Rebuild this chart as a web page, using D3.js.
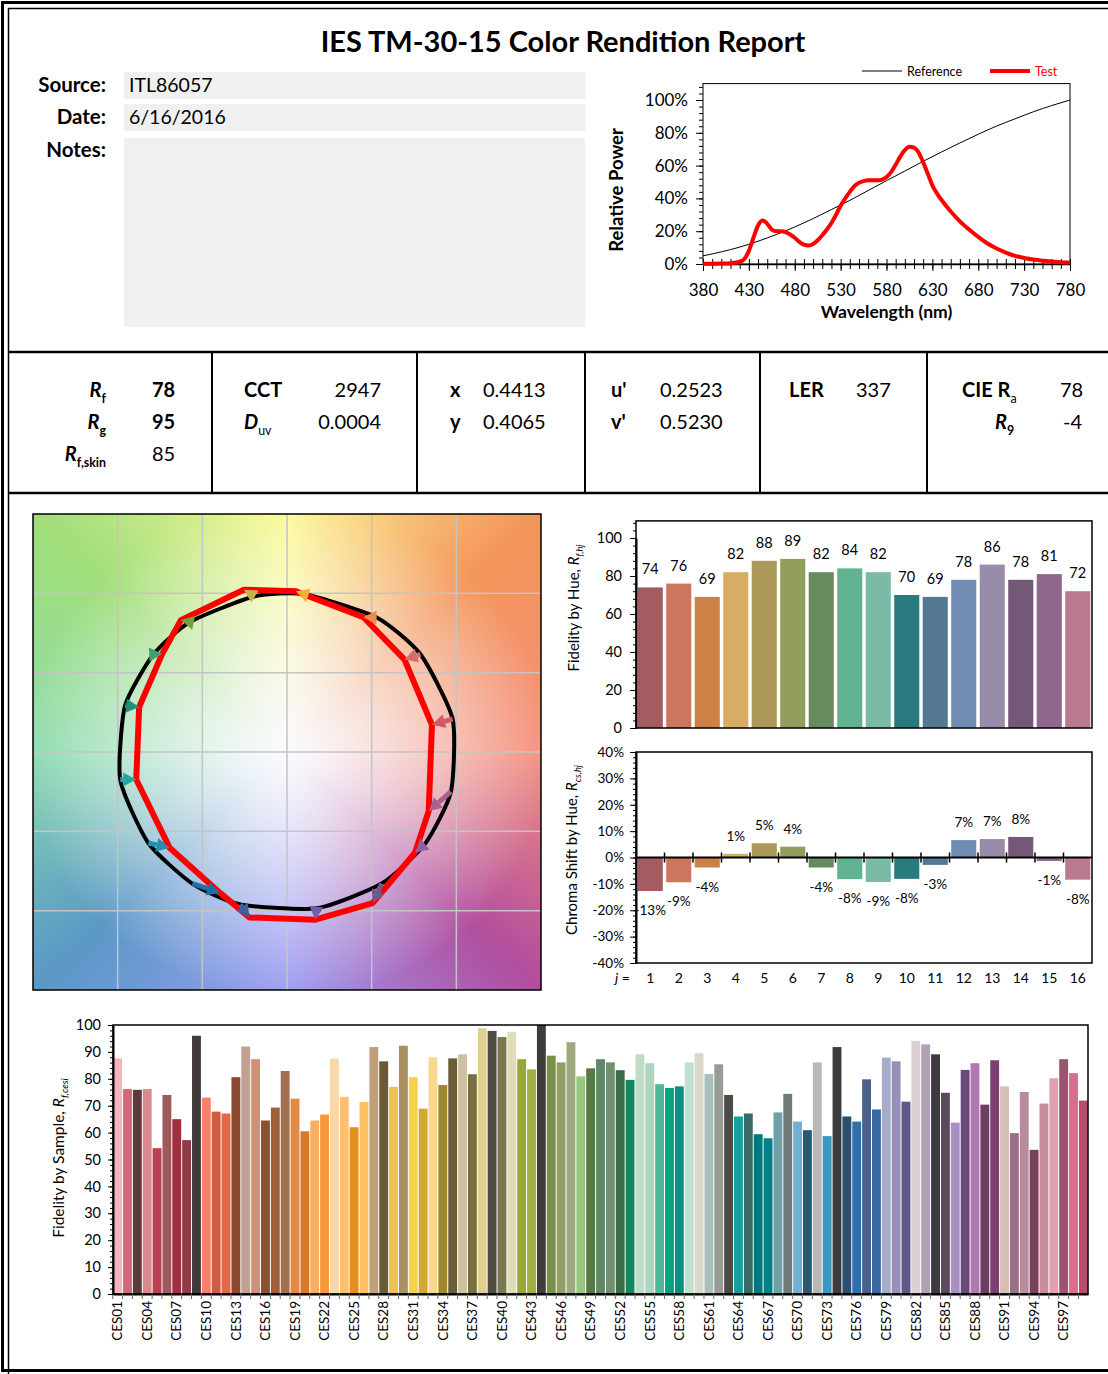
<!DOCTYPE html>
<html>
<head>
<meta charset="utf-8">
<script src="https://cdn.jsdelivr.net/npm/d3@7"></script>
<style>
  body { margin: 0; background: #fff; }
  svg { display: block; }
</style>
</head>
<body>
<svg id="report" width="1108" height="1374"></svg>
<script>
// ---------------- data ----------------
const headerLabels = ["Source:", "Date:", "Notes:"];
const headerValues = ["ITL86057", "6/16/2016", ""];

// spectrum (relative power, %)
const refWl    = [380, 400, 420, 440, 460, 480, 500, 520, 540, 560, 580, 600, 620, 640, 660, 680, 700, 720, 740, 760, 780];
const refPower = [5.0, 7.4, 10.3, 13.9, 18.0, 22.6, 27.7, 33.2, 38.8, 44.8, 50.8, 56.7, 62.6, 68.3, 73.8, 79.1, 84.1, 88.5, 92.8, 96.6, 100];
const testWl    = [380, 390, 400, 410, 420, 425, 430, 435, 440, 445, 450, 455, 460, 465, 470, 475, 480, 485, 490, 495,
                   500, 505, 510, 515, 520, 525, 530, 535, 540, 545, 550, 555, 560, 565, 570, 575, 580, 585, 590, 595,
                   600, 605, 610, 615, 620, 625, 630, 635, 640, 650, 660, 670, 680, 690, 700, 710, 720, 730, 740, 750,
                   760, 770, 780];
const testPower = [0.2, 0.2, 0.3, 0.5, 1.2, 3, 8, 16, 23.5, 26.5, 24.5, 21, 20, 20, 19.5, 18, 16, 13.5, 11.8, 11.3,
                   12.2, 14.5, 17.5, 21, 25, 30, 35.5, 40, 44, 47.5, 49.5, 50.5, 51, 51, 51, 51.5, 53, 56, 60.5, 65.5,
                   69.5, 71.5, 71, 68, 62, 55, 48, 43, 39, 32, 26, 21, 16.5, 12.5, 9.5, 7, 5, 3.7, 2.7, 2,
                   1.5, 1.1, 0.9];
const wlTicks = [380, 430, 480, 530, 580, 630, 680, 730, 780];
const powerTicks = [0, 20, 40, 60, 80, 100];

// hue bins
const hueBins = [1, 2, 3, 4, 5, 6, 7, 8, 9, 10, 11, 12, 13, 14, 15, 16];
const hueColors = ["#a35c60", "#cc765e", "#cc8145", "#d8ac62", "#ac9959", "#919e5d", "#668b5e", "#61b290",
                   "#7bbaa6", "#297a7e", "#557892", "#708cb2", "#988caa", "#735877", "#8f668d", "#ba7a8e"];
const arrowColors = ["#d05a68", "#d46e6e", "#ee8a50", "#eeb234", "#c4b24c", "#70a040", "#40a070", "#20907a",
                     "#20a8a0", "#2090b0", "#2070a8", "#4060a0", "#7060a8", "#705890", "#9060a0", "#a86090"];
const fidelityByHue = [74, 76, 69, 82, 88, 89, 82, 84, 82, 70, 69, 78, 86, 78, 81, 72];
const chromaShift = [-12.7, -9.4, -3.8, 1.4, 5.4, 4.1, -3.8, -8.2, -9.3, -8.1, -2.8, 6.6, 7.0, 7.8, -1.3, -8.4];
const refHueAngle  = [12, 38, 58, 84, 101, 125, 142, 163, 190, 215, 236, 254, 280, 304, 324.5, 345.5];
const testHueAngle = [11.3, 40, 62, 87, 104, 127, 140, 162, 191, 221, 246, 258, 279, 298, 320, 336];
const fidTicks = [0, 20, 40, 60, 80, 100];
const chromaTicks = [-40, -30, -20, -10, 0, 10, 20, 30, 40];

// colour-vector background: hue colours every 45 degrees, starting at +a'
const bgHues = ["#f5907e", "#f4955a", "#fcfa9c", "#a0de7a", "#8cdcae", "#5a98c6", "#9c9cf2", "#b24e9e"];

// 99 colour evaluation samples
const cesNames = d3.range(1, 100).map(i => "CES" + String(i).padStart(2, "0"));
const cesFidelity = [87.6, 76.2, 75.9, 76.2, 54.2, 74.0, 65.0, 57.2, 96.0, 73.0,
                     67.8, 67.1, 80.6, 92.0, 87.3, 64.5, 69.3, 82.9, 72.6, 60.5,
                     64.5, 66.7, 87.5, 73.3, 62.0, 71.4, 91.8, 86.5, 77.0, 92.3,
                     80.6, 68.9, 88.0, 77.7, 87.6, 89.1, 81.7, 98.8, 97.8, 95.5,
                     97.5, 87.3, 83.5, 100, 88.6, 86.1, 93.6, 80.9, 83.9, 87.3,
                     86.1, 83.2, 79.6, 89.1, 85.8, 78.0, 76.6, 77.2, 86.1, 89.5,
                     81.8, 85.4, 74.0, 66.0, 67.1, 59.4, 57.9, 67.5, 74.4, 64.1,
                     60.9, 86.1, 58.7, 91.8, 66.0, 64.1, 79.8, 68.6, 87.9, 86.5,
                     71.5, 94.1, 92.8, 89.1, 74.8, 63.7, 83.3, 85.8, 70.4, 86.9,
                     77.2, 59.8, 75.1, 53.6, 70.8, 80.2, 87.3, 82.1, 71.9];
const cesColors = ["#f4b4bc", "#d4667a", "#5a3a3c", "#d8888e", "#b84050", "#9c5a5a", "#a03040", "#903a44", "#403a38", "#f88068",
                   "#d05a44", "#e06848", "#8a4a30", "#c4a090", "#d09078", "#8c5032", "#a06038", "#a07050", "#e08a48", "#d87828",
                   "#f8b060", "#f89838", "#f8d8a8", "#fcc070", "#e09020", "#fcc060", "#c0a078", "#6a5a38", "#f0c050", "#a89060",
                   "#f8d050", "#d4a830", "#f8d890", "#a08828", "#6a5e38", "#d0c0a0", "#7a6e40", "#e0d090", "#504c40", "#7a7850",
                   "#e0dcb8", "#98a838", "#a0b040", "#403c3a", "#789048", "#90a068", "#a0a880", "#98c880", "#587848", "#608868",
                   "#709070", "#3a6e48", "#108860", "#c0dcc8", "#b0d4c0", "#50b898", "#08a080", "#089080", "#c0e0d0", "#d8d8cc",
                   "#a8c0b8", "#989c94", "#4a4a48", "#10a0a0", "#3a6a68", "#007880", "#008088", "#70a0a8", "#707c7c", "#70b0d0",
                   "#2a5870", "#b8b8b8", "#3898c0", "#3c3c3c", "#2a5070", "#3070a8", "#4a6088", "#3868a0", "#a8acc8", "#9890b8",
                   "#605888", "#dcd0d4", "#b0a0b8", "#3c3a3e", "#5a4a5c", "#a890c0", "#684a78", "#b07ab0", "#6c3e64", "#7c4070",
                   "#d4c0b4", "#9c7084", "#b88c9c", "#78405c", "#c88c9c", "#e0a0b0", "#9c5470", "#d86e8c", "#b84c6c"];
const cesTicks = [0, 10, 20, 30, 40, 50, 60, 70, 80, 90, 100];

// ---------------- drawing ----------------
const font = "Lato, 'Open Sans', sans-serif";
const svg = d3.select("#report").attr("font-family", font);

// helper: text made of parts (italic / bold / subscript)
function rich(sel, parts, size) {
  parts.forEach(p => {
    const t = sel.append("tspan").text(p.t);
    if (p.i) t.attr("font-style", "italic");
    if (p.b) t.attr("font-weight", "bold");
    if (p.sub) t.attr("font-size", size * 0.62).attr("dy", size * 0.28);
  });
  return sel;
}
function styleAxis(g, size) {
  g.attr("font-family", font).attr("font-size", size);
  g.selectAll("text").attr("fill", "#000");
  g.selectAll("line,path").attr("stroke", "#000");
}

// page frame and section rules
svg.append("rect").attr("x", 2.5).attr("y", 2.5).attr("width", 1130).attr("height", 1368)
  .attr("fill", "none").attr("stroke", "#000").attr("stroke-width", 3);
svg.append("rect").attr("x", 8.5).attr("y", 8.5).attr("width", 1120).attr("height", 1400)
  .attr("fill", "none").attr("stroke", "#000").attr("stroke-width", 1.5);
[352, 493].forEach(y => svg.append("line").attr("x1", 9).attr("x2", 1108).attr("y1", y).attr("y2", y)
  .attr("stroke", "#000").attr("stroke-width", 2.5));
[212, 417, 585, 760, 927].forEach(x => svg.append("line").attr("x1", x).attr("x2", x).attr("y1", 352).attr("y2", 493)
  .attr("stroke", "#000").attr("stroke-width", 2));

// title + header fields
svg.append("text").attr("x", 563).attr("y", 52).attr("text-anchor", "middle")
  .attr("font-size", 29).attr("font-weight", "bold").text("IES TM-30-15 Color Rendition Report");

const boxes = [[72, 27], [104, 27], [138, 189]];
const baseY = [92, 124, 157];
headerLabels.forEach((lab, i) => {
  svg.append("rect").attr("x", 124).attr("y", boxes[i][0]).attr("width", 461).attr("height", boxes[i][1]).attr("fill", "#f0f0f0");
  svg.append("text").attr("x", 106).attr("y", baseY[i]).attr("text-anchor", "end")
    .attr("font-size", 20.5).attr("font-weight", "bold").text(lab);
  svg.append("text").attr("x", 129).attr("y", baseY[i]).attr("font-size", 19.5).text(headerValues[i]);
});

// ---------------- metrics row ----------------
const m = svg.append("g").attr("font-size", 20);
const row = [397, 429, 461];
rich(m.append("text").attr("x", 106).attr("y", row[0]).attr("text-anchor", "end"), [{t: "R", i: 1, b: 1}, {t: "f", b: 1, sub: 1}], 20);
rich(m.append("text").attr("x", 106).attr("y", row[1]).attr("text-anchor", "end"), [{t: "R", i: 1, b: 1}, {t: "g", b: 1, sub: 1}], 20);
rich(m.append("text").attr("x", 106).attr("y", row[2]).attr("text-anchor", "end"), [{t: "R", i: 1, b: 1}, {t: "f,skin", b: 1, sub: 1}], 20);
m.append("text").attr("x", 152).attr("y", row[0]).attr("font-weight", "bold").text("78");
m.append("text").attr("x", 152).attr("y", row[1]).attr("font-weight", "bold").text("95");
m.append("text").attr("x", 152).attr("y", row[2]).text("85");

m.append("text").attr("x", 244).attr("y", row[0]).attr("font-weight", "bold").text("CCT");
m.append("text").attr("x", 381).attr("y", row[0]).attr("text-anchor", "end").text("2947");
rich(m.append("text").attr("x", 244).attr("y", row[1]), [{t: "D", i: 1, b: 1}, {t: "uv", sub: 1}], 20);
m.append("text").attr("x", 381).attr("y", row[1]).attr("text-anchor", "end").text("0.0004");

m.append("text").attr("x", 450).attr("y", row[0]).attr("font-weight", "bold").text("x");
m.append("text").attr("x", 483).attr("y", row[0]).text("0.4413");
m.append("text").attr("x", 450).attr("y", row[1]).attr("font-weight", "bold").text("y");
m.append("text").attr("x", 483).attr("y", row[1]).text("0.4065");

m.append("text").attr("x", 611).attr("y", row[0]).attr("font-weight", "bold").text("u'");
m.append("text").attr("x", 660).attr("y", row[0]).text("0.2523");
m.append("text").attr("x", 611).attr("y", row[1]).attr("font-weight", "bold").text("v'");
m.append("text").attr("x", 660).attr("y", row[1]).text("0.5230");

m.append("text").attr("x", 789).attr("y", row[0]).attr("font-weight", "bold").text("LER");
m.append("text").attr("x", 856).attr("y", row[0]).text("337");

rich(m.append("text").attr("x", 962).attr("y", row[0]), [{t: "CIE R", b: 1}, {t: "a", sub: 1}], 20);
m.append("text").attr("x", 1060).attr("y", row[0]).text("78");
rich(m.append("text").attr("x", 995).attr("y", row[1]), [{t: "R", i: 1, b: 1}, {t: "9", b: 1, sub: 1}], 20);
m.append("text").attr("x", 1063).attr("y", row[1]).text("-4");

// ---------------- spectrum ----------------
const sx = d3.scaleLinear().domain([380, 780]).range([703, 1070]);
const sy = d3.scaleLinear().domain([0, 100]).range([264, 100]);
const spec = svg.append("g");
spec.append("rect").attr("x", sx(380)).attr("y", sy(110)).attr("width", sx(780) - sx(380)).attr("height", sy(0) - sy(110))
  .attr("fill", "none").attr("stroke", "#000").attr("stroke-width", 1);

spec.append("g").attr("transform", `translate(0,${sy(0)})`)
  .call(d3.axisBottom(sx).tickValues(d3.range(380, 781, 10)).tickSize(5).tickSizeOuter(0).tickFormat(""))
  .call(g => styleAxis(g, 17));
spec.append("g").attr("transform", `translate(0,${sy(0)})`)
  .call(d3.axisBottom(sx).tickValues(d3.range(380, 781, 10)).tickSize(-5).tickSizeOuter(0).tickFormat(""))
  .call(g => g.select(".domain").remove()).call(g => styleAxis(g, 17));
spec.append("g").attr("transform", `translate(0,${sy(0)})`)
  .call(d3.axisBottom(sx).tickValues(wlTicks).tickSize(7).tickPadding(13).tickSizeOuter(0))
  .call(g => g.select(".domain").attr("stroke-width", 1.5)).call(g => styleAxis(g, 17));

spec.append("g").attr("transform", `translate(${sx(380)},0)`)
  .call(d3.axisLeft(sy).tickValues(d3.range(0, 109, 4)).tickSize(4).tickSizeOuter(0).tickFormat(""))
  .call(g => g.select(".domain").remove()).call(g => styleAxis(g, 17));
spec.append("g").attr("transform", `translate(${sx(380)},0)`)
  .call(d3.axisLeft(sy).tickValues(powerTicks).tickSize(7).tickPadding(8).tickSizeOuter(0).tickFormat(d => d + "%"))
  .call(g => g.select(".domain").remove()).call(g => styleAxis(g, 17));

spec.append("path").datum(refWl.map((w, i) => [w, refPower[i]]))
  .attr("fill", "none").attr("stroke", "#000").attr("stroke-width", 1)
  .attr("d", d3.line().x(d => sx(d[0])).y(d => sy(d[1])).curve(d3.curveMonotoneX));
spec.append("path").datum(testWl.map((w, i) => [w, testPower[i]]))
  .attr("fill", "none").attr("stroke", "#ff0000").attr("stroke-width", 4).attr("stroke-linejoin", "round")
  .attr("d", d3.line().x(d => sx(d[0])).y(d => sy(d[1])).curve(d3.curveMonotoneX));

spec.append("text").attr("transform", `translate(623,${(sy(0) + sy(100)) / 2 + 8}) rotate(-90)`)
  .attr("text-anchor", "middle").attr("font-size", 18.5).attr("font-weight", "bold").text("Relative Power");
spec.append("text").attr("x", (sx(380) + sx(780)) / 2).attr("y", 318).attr("text-anchor", "middle")
  .attr("font-size", 17.5).attr("font-weight", "bold").text("Wavelength (nm)");
// legend
spec.append("line").attr("x1", 862).attr("x2", 902).attr("y1", 71).attr("y2", 71).attr("stroke", "#000").attr("stroke-width", 1);
spec.append("text").attr("x", 907).attr("y", 75.5).attr("font-size", 12.5).text("Reference");
spec.append("line").attr("x1", 990).attr("x2", 1030).attr("y1", 71).attr("y2", 71).attr("stroke", "#ff0000").attr("stroke-width", 4);
spec.append("text").attr("x", 1035).attr("y", 75.5).attr("font-size", 12.5).attr("fill", "#ff0000").text("Test");

// ---------------- colour vector graphic ----------------
const vx = d3.scaleLinear().domain([-1.5, 1.5]).range([33, 541]);
const vy = d3.scaleLinear().domain([-1.5, 1.5]).range([990, 514]);
const cw = Math.round(vx(1.5) - vx(-1.5)), ch = Math.round(vy(-1.5) - vy(1.5));
const canvas = document.createElement("canvas");
canvas.width = cw; canvas.height = ch;
const ctx = canvas.getContext("2d");
const img = ctx.createImageData(cw, ch);
const hueRgb = bgHues.map(c => d3.rgb(c));
for (let j = 0; j < ch; j++) {
  for (let i = 0; i < cw; i++) {
    const u = vx.invert(vx(-1.5) + i + 0.5), v = vy.invert(vy(1.5) + j + 0.5);
    const r = Math.hypot(u, v);
    let a = Math.atan2(v, u) * 180 / Math.PI; if (a < 0) a += 360;
    const k = Math.floor(a / 45) % 8, f = a / 45 - Math.floor(a / 45);
    const c0 = hueRgb[k], c1 = hueRgb[(k + 1) % 8];
    const s = Math.min(1, Math.pow(r / 1.55, 1.3));
    const idx = (j * cw + i) * 4;
    const wr = 250, wg = 250, wb = 253;
    img.data[idx] = wr + (c0.r + (c1.r - c0.r) * f - wr) * s;
    img.data[idx + 1] = wg + (c0.g + (c1.g - c0.g) * f - wg) * s;
    img.data[idx + 2] = wb + (c0.b + (c1.b - c0.b) * f - wb) * s;
    img.data[idx + 3] = 255;
  }
}
ctx.putImageData(img, 0, 0);
const vec = svg.append("g");
vec.append("image").attr("x", vx(-1.5)).attr("y", vy(1.5)).attr("width", cw).attr("height", ch)
  .attr("href", canvas.toDataURL());
[-1, -0.5, 0, 0.5, 1].forEach(g => {
  vec.append("line").attr("x1", vx(g)).attr("x2", vx(g)).attr("y1", vy(1.5)).attr("y2", vy(-1.5))
    .attr("stroke", "#c4c4c4").attr("stroke-width", 1.5);
  vec.append("line").attr("x1", vx(-1.5)).attr("x2", vx(1.5)).attr("y1", vy(g)).attr("y2", vy(g))
    .attr("stroke", "#c4c4c4").attr("stroke-width", 1.5);
});
vec.append("rect").attr("x", vx(-1.5)).attr("y", vy(1.5)).attr("width", cw).attr("height", ch)
  .attr("fill", "none").attr("stroke", "#000").attr("stroke-width", 1.5);

const rad = Math.PI / 180;
const refPts = refHueAngle.map(a => [vx(Math.cos(a * rad)), vy(Math.sin(a * rad))]);
const testPts = testHueAngle.map((a, i) => {
  const r = 1 + chromaShift[i] / 100;
  return [vx(r * Math.cos(a * rad)), vy(r * Math.sin(a * rad))];
});
const smooth = d3.line().curve(d3.curveCardinalClosed.tension(0.4));
const straight = d3.line().curve(d3.curveLinearClosed);
vec.append("path").attr("d", smooth(refPts)).attr("fill", "none").attr("stroke", "#000").attr("stroke-width", 4).attr("stroke-linejoin", "round");
vec.append("path").attr("d", straight(testPts)).attr("fill", "none").attr("stroke", "#ff0000").attr("stroke-width", 6).attr("stroke-linejoin", "round");
hueBins.forEach((b, i) => {
  const [x0, y0] = refPts[i], [x1, y1] = testPts[i];
  let dx = x1 - x0, dy = y1 - y0, len = Math.hypot(dx, dy) || 1;
  dx /= len; dy /= len;
  const hl = 13, hw = 7;
  const bx0 = x1 - dx * hl, by0 = y1 - dy * hl;
  if (len > hl) {
    vec.append("line").attr("x1", x0).attr("y1", y0).attr("x2", bx0).attr("y2", by0)
      .attr("stroke", arrowColors[i]).attr("stroke-width", 5);
  }
  vec.append("path")
    .attr("d", `M${x1},${y1}L${bx0 - dy * hw},${by0 + dx * hw}L${bx0 + dy * hw},${by0 - dx * hw}Z`)
    .attr("fill", arrowColors[i]);
});

// ---------------- fidelity by hue ----------------
const hx = d3.scaleBand().domain(hueBins).range([636, 1092]).paddingInner(0.12).paddingOuter(0.06);
const hy = d3.scaleLinear().domain([0, 100]).range([728, 538]);
const fh = svg.append("g");
fh.selectAll("rect.bar").data(hueBins).join("rect").attr("class", "bar")
  .attr("x", d => hx(d)).attr("width", hx.bandwidth())
  .attr("y", (d, i) => hy(fidelityByHue[i])).attr("height", (d, i) => hy(0) - hy(fidelityByHue[i]))
  .attr("fill", (d, i) => hueColors[i]);
fh.selectAll("text.val").data(hueBins).join("text").attr("class", "val")
  .attr("x", d => hx(d) + hx.bandwidth() / 2).attr("y", (d, i) => hy(fidelityByHue[i]) - 13)
  .attr("text-anchor", "middle").attr("font-size", 14.5).text((d, i) => fidelityByHue[i]);
fh.append("rect").attr("x", 636).attr("y", hy(109)).attr("width", 1092 - 636).attr("height", hy(0) - hy(109))
  .attr("fill", "none").attr("stroke", "#000").attr("stroke-width", 1.5);
fh.append("g").attr("transform", "translate(636,0)")
  .call(d3.axisLeft(hy).tickValues(d3.range(0, 109, 4)).tickSize(3).tickSizeOuter(0).tickFormat(""))
  .call(g => g.select(".domain").remove()).call(g => styleAxis(g, 14.5));
fh.append("g").attr("transform", "translate(636,0)")
  .call(d3.axisLeft(hy).tickValues(fidTicks).tickSize(6).tickPadding(8).tickSizeOuter(0))
  .call(g => g.select(".domain").attr("stroke-width", 2)).call(g => styleAxis(g, 14.5));
rich(fh.append("text").attr("transform", "translate(579,608) rotate(-90)").attr("text-anchor", "middle").attr("font-size", 15),
  [{t: "Fidelity by Hue, "}, {t: "R", i: 1}, {t: "f,hj", i: 1, sub: 1}], 15);

// ---------------- chroma shift by hue ----------------
const cy = d3.scaleLinear().domain([-40, 40]).range([963, 752]);
const cs = svg.append("g");
cs.selectAll("rect.bar").data(hueBins).join("rect").attr("class", "bar")
  .attr("x", d => hx(d)).attr("width", hx.bandwidth())
  .attr("y", (d, i) => cy(Math.max(0, chromaShift[i])))
  .attr("height", (d, i) => Math.abs(cy(chromaShift[i]) - cy(0)))
  .attr("fill", (d, i) => hueColors[i]);
cs.selectAll("text.val").data(hueBins).join("text").attr("class", "val")
  .attr("x", d => hx(d) + hx.bandwidth() / 2)
  .attr("y", (d, i) => chromaShift[i] >= 0 ? cy(chromaShift[i]) - 13 : cy(chromaShift[i]) + 24)
  .attr("text-anchor", "middle").attr("font-size", 13.5).text((d, i) => Math.round(chromaShift[i]) + "%");
cs.append("rect").attr("x", 636).attr("y", cy(40)).attr("width", 1092 - 636).attr("height", cy(-40) - cy(40))
  .attr("fill", "none").attr("stroke", "#000").attr("stroke-width", 1.5);
cs.append("line").attr("x1", 636).attr("x2", 1092).attr("y1", cy(0)).attr("y2", cy(0)).attr("stroke", "#000").attr("stroke-width", 2);
hueBins.slice(1).forEach(b => {
  const x = hx(b) - hx.step() * hx.paddingInner() / 2;
  cs.append("line").attr("x1", x).attr("x2", x).attr("y1", cy(0) - 5).attr("y2", cy(0) + 5).attr("stroke", "#000").attr("stroke-width", 1.5);
});
cs.append("g").attr("transform", "translate(636,0)")
  .call(d3.axisLeft(cy).tickValues(d3.range(-40, 41, 2)).tickSize(3).tickSizeOuter(0).tickFormat(""))
  .call(g => g.select(".domain").remove()).call(g => styleAxis(g, 13.5));
cs.append("g").attr("transform", "translate(636,0)")
  .call(d3.axisLeft(cy).tickValues(chromaTicks).tickSize(6).tickPadding(6).tickSizeOuter(0).tickFormat(d => d + "%"))
  .call(g => g.select(".domain").attr("stroke-width", 2)).call(g => styleAxis(g, 13.5));
cs.selectAll("text.j").data(hueBins).join("text").attr("class", "j")
  .attr("x", d => hx(d) + hx.bandwidth() / 2).attr("y", 983).attr("text-anchor", "middle").attr("font-size", 14).text(d => d);
cs.append("text").attr("x", 630).attr("y", 983).attr("text-anchor", "end").attr("font-size", 14)
  .call(t => rich(t, [{t: "j", i: 1}, {t: " ="}], 14));
rich(cs.append("text").attr("transform", "translate(577,850) rotate(-90)").attr("text-anchor", "middle").attr("font-size", 15),
  [{t: "Chroma Shift by Hue, "}, {t: "R", i: 1}, {t: "cs,hj", i: 1, sub: 1}], 15);

// ---------------- fidelity by sample ----------------
const bx = d3.scaleBand().domain(cesNames).range([113, 1088]).paddingInner(0.1).paddingOuter(0.02);
const by = d3.scaleLinear().domain([0, 100]).range([1294, 1025]);
const fs = svg.append("g");
fs.selectAll("rect.bar").data(cesNames).join("rect").attr("class", "bar")
  .attr("x", d => bx(d)).attr("width", bx.bandwidth())
  .attr("y", (d, i) => by(cesFidelity[i])).attr("height", (d, i) => by(0) - by(cesFidelity[i]))
  .attr("fill", (d, i) => cesColors[i]);
fs.append("rect").attr("x", 113).attr("y", by(100)).attr("width", 1088 - 113).attr("height", by(0) - by(100))
  .attr("fill", "none").attr("stroke", "#000").attr("stroke-width", 1.5);
fs.append("g").attr("transform", `translate(0,${by(0)})`)
  .call(d3.axisBottom(bx).tickValues(cesNames.filter((d, i) => i % 3 === 0)).tickSize(0).tickPadding(6).tickSizeOuter(0))
  .call(g => g.select(".domain").attr("stroke-width", 2))
  .call(g => styleAxis(g, 13.5))
  .call(g => g.selectAll(".tick text").attr("transform", "rotate(-90)").attr("text-anchor", "end")
    .attr("x", -7).attr("y", 0).attr("dy", "0.35em"));
cesNames.forEach((d, i) => {
  const x = bx(d) - bx.step() * bx.paddingInner() / 2;
  fs.append("line").attr("x1", x).attr("x2", x).attr("y1", by(0)).attr("y2", by(0) + 5).attr("stroke", "#666").attr("stroke-width", 1);
});
fs.append("g").attr("transform", "translate(113,0)")
  .call(d3.axisLeft(by).tickValues(d3.range(0, 101, 2)).tickSize(3).tickSizeOuter(0).tickFormat(""))
  .call(g => g.select(".domain").remove()).call(g => styleAxis(g, 14.5));
fs.append("g").attr("transform", "translate(113,0)")
  .call(d3.axisLeft(by).tickValues(cesTicks).tickSize(5).tickPadding(7).tickSizeOuter(0))
  .call(g => g.select(".domain").attr("stroke-width", 2)).call(g => styleAxis(g, 14.5));
rich(fs.append("text").attr("transform", "translate(64,1158) rotate(-90)").attr("text-anchor", "middle").attr("font-size", 15.5),
  [{t: "Fidelity by Sample, "}, {t: "R", i: 1}, {t: "f,cesi", i: 1, sub: 1}], 15.5);
</script>
</body>
</html>
